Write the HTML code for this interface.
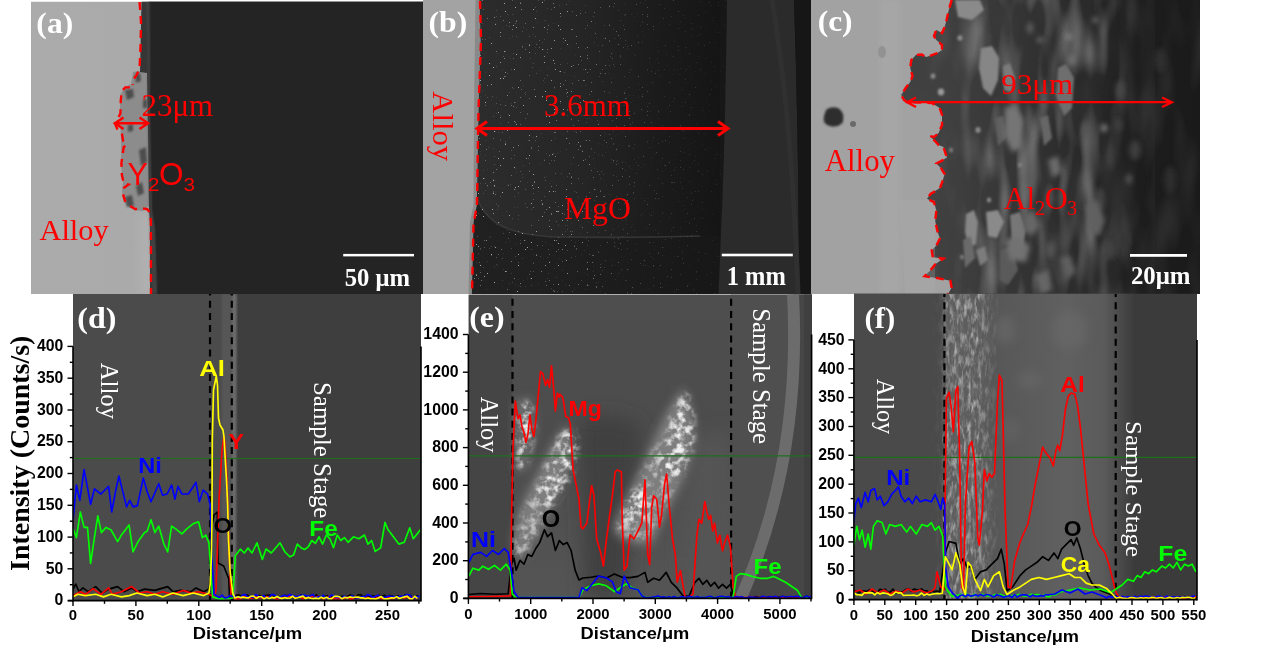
<!DOCTYPE html>
<html><head><meta charset="utf-8"><style>
html,body{margin:0;padding:0;background:#fff;width:1269px;height:661px;overflow:hidden}
svg{display:block}
</style></head><body>
<svg width="1269" height="661" viewBox="0 0 1269 661">
<rect width="1269" height="661" fill="#fff"/>
<defs>
<filter id="bl1" x="-20%" y="-20%" width="140%" height="140%"><feGaussianBlur stdDeviation="1.2"/></filter>
<filter id="bl2" x="-20%" y="-20%" width="140%" height="140%"><feGaussianBlur stdDeviation="2.5"/></filter>
<filter id="bl4" x="-30%" y="-30%" width="160%" height="160%"><feGaussianBlur stdDeviation="5"/></filter>
<filter id="bl8" x="-30%" y="-30%" width="160%" height="160%"><feGaussianBlur stdDeviation="9"/></filter>
<linearGradient id="gA" x1="0" x2="1" y1="0" y2="0">
 <stop offset="0" stop-color="#ababab"/><stop offset="0.7" stop-color="#a8a8a8"/><stop offset="1" stop-color="#9c9c9c"/></linearGradient>
<linearGradient id="gMgO" x1="0" x2="1" y1="0" y2="0">
 <stop offset="0" stop-color="#222"/><stop offset="0.35" stop-color="#1f1f1f"/><stop offset="0.7" stop-color="#181818"/><stop offset="1" stop-color="#141414"/></linearGradient>
<linearGradient id="gMgO2" x1="478" x2="720" y1="0" y2="0" gradientUnits="userSpaceOnUse">
 <stop offset="0" stop-color="#2c2c2c"/><stop offset="0.4" stop-color="#262626"/><stop offset="0.75" stop-color="#1b1b1b"/><stop offset="1" stop-color="#151515"/></linearGradient>
<linearGradient id="gCox" x1="0" x2="1" y1="0" y2="0">
 <stop offset="0" stop-color="#444"/><stop offset="0.35" stop-color="#404040"/><stop offset="0.55" stop-color="#333"/><stop offset="0.75" stop-color="#262626"/><stop offset="0.85" stop-color="#1d1d1d"/><stop offset="1" stop-color="#1a1a1a"/></linearGradient>
<linearGradient id="gFmid" x1="0" x2="1" y1="0" y2="0">
 <stop offset="0" stop-color="#5c5c5c"/><stop offset="0.3" stop-color="#575757"/><stop offset="0.75" stop-color="#606060"/><stop offset="1" stop-color="#5a5a5a"/></linearGradient>
<linearGradient id="gFedge" x1="0" x2="1" y1="0" y2="0">
 <stop offset="0" stop-color="#5a5a5a"/><stop offset="1" stop-color="#3c3c3c"/></linearGradient>
<linearGradient id="gEmid" x1="0" x2="0" y1="0" y2="1">
 <stop offset="0" stop-color="#4e4e4e"/><stop offset="0.5" stop-color="#4c4c4c"/><stop offset="1" stop-color="#555"/></linearGradient>
<filter id="cloudE" x="0" y="0" width="1269" height="661" filterUnits="userSpaceOnUse">
 <feTurbulence type="fractalNoise" baseFrequency="0.13" numOctaves="3" seed="5" result="n"/>
 <feColorMatrix in="n" type="matrix" values="0 0 0 0 1  0 0 0 0 1  0 0 0 0 1  3.4 0 0 0 -1.45" result="w"/>
 <feGaussianBlur in="SourceGraphic" stdDeviation="3" result="m"/>
 <feComposite in="w" in2="m" operator="in"/>
</filter>
<filter id="streakC" filterUnits="userSpaceOnUse" x="900" y="0" width="300" height="294">
 <feTurbulence type="fractalNoise" baseFrequency="0.05 0.014" numOctaves="2" seed="9" result="n"/>
 <feColorMatrix in="n" type="matrix" values="0 0 0 0 0.45  0 0 0 0 0.45  0 0 0 0 0.45  2.6 0 0 0 -1.15" result="w"/>
 <feComposite in="w" in2="SourceGraphic" operator="in"/>
</filter>
<filter id="streakCd" filterUnits="userSpaceOnUse" x="900" y="0" width="300" height="294">
 <feTurbulence type="fractalNoise" baseFrequency="0.04 0.012" numOctaves="2" seed="21" result="n"/>
 <feColorMatrix in="n" type="matrix" values="0 0 0 0 0.05  0 0 0 0 0.05  0 0 0 0 0.05  2.6 0 0 0 -1.15" result="w"/>
 <feComposite in="w" in2="SourceGraphic" operator="in"/>
</filter>
<filter id="fibF" filterUnits="userSpaceOnUse" x="930" y="294" width="70" height="306">
 <feTurbulence type="fractalNoise" baseFrequency="0.28 0.09" numOctaves="3" seed="4" result="n"/>
 <feColorMatrix in="n" type="matrix" values="0 0 0 0 0.62  0 0 0 0 0.62  0 0 0 0 0.62  2.8 0 0 0 -1.25" result="w"/>
 <feComposite in="w" in2="SourceGraphic" operator="in"/>
</filter>
<filter id="fibFd" filterUnits="userSpaceOnUse" x="930" y="294" width="70" height="306">
 <feTurbulence type="fractalNoise" baseFrequency="0.25 0.08" numOctaves="3" seed="14" result="n"/>
 <feColorMatrix in="n" type="matrix" values="0 0 0 0 0.2  0 0 0 0 0.2  0 0 0 0 0.2  2.8 0 0 0 -1.25" result="w"/>
 <feComposite in="w" in2="SourceGraphic" operator="in"/>
</filter>
<linearGradient id="gFibMask" x1="930" x2="1000" y1="0" y2="0" gradientUnits="userSpaceOnUse"><stop offset="0" stop-color="#000"/><stop offset="0.16" stop-color="#222"/><stop offset="0.22" stop-color="#fff"/><stop offset="0.65" stop-color="#fff"/><stop offset="0.88" stop-color="#555"/><stop offset="1" stop-color="#000"/></linearGradient>
<filter id="speckB" filterUnits="userSpaceOnUse" x="470" y="0" width="260" height="294">
 <feTurbulence type="fractalNoise" baseFrequency="0.55" numOctaves="2" seed="17" result="n"/>
 <feColorMatrix in="n" type="matrix" values="0 0 0 0 0.4  0 0 0 0 0.4  0 0 0 0 0.42  12 0 0 0 -8.7" result="w"/>
 <feComposite in="w" in2="SourceGraphic" operator="in"/>
</filter>
<linearGradient id="gSpeckMask" x1="478" x2="720" y1="0" y2="0" gradientUnits="userSpaceOnUse"><stop offset="0" stop-color="#fff"/><stop offset="0.35" stop-color="#ddd"/><stop offset="0.6" stop-color="#666"/><stop offset="1" stop-color="#222"/></linearGradient>
<filter id="mottle" filterUnits="userSpaceOnUse" x="0" y="0" width="1269" height="661">
 <feTurbulence type="fractalNoise" baseFrequency="0.045" numOctaves="3" seed="2" result="n"/>
 <feColorMatrix in="n" type="matrix" values="0 0 0 0 0.5  0 0 0 0 0.5  0 0 0 0 0.5  2.4 0 0 0 -1.05" result="w"/>
 <feComposite in="w" in2="SourceGraphic" operator="in"/>
</filter>
<linearGradient id="gMaskC" x1="900" x2="1200" y1="0" y2="0" gradientUnits="userSpaceOnUse"><stop offset="0" stop-color="#000"/><stop offset="0.17" stop-color="#333"/><stop offset="0.33" stop-color="#eee"/><stop offset="0.68" stop-color="#bbb"/><stop offset="0.8" stop-color="#222"/><stop offset="1" stop-color="#000"/></linearGradient>
<clipPath id="cpa"><rect x="31" y="1.5" width="392" height="292.5"/></clipPath>
<clipPath id="cpb"><rect x="423" y="0" width="388" height="294"/></clipPath>
<clipPath id="cpc"><rect x="811" y="0" width="389" height="294"/></clipPath>
<clipPath id="cpd"><rect x="73" y="294" width="348" height="306.5"/></clipPath>
<clipPath id="cpe"><rect x="468.5" y="294.4" width="343.5" height="304.5"/></clipPath>
<clipPath id="cpf"><rect x="854" y="293.8" width="343" height="305.8"/></clipPath>
</defs>
<g clip-path="url(#cpa)">
<rect x="31" y="1.5" width="392" height="292.5" fill="url(#gA)"/>
<path d="M138,215 L150,212 L154,294 L140,294 Z" fill="#b8b8b8" opacity="0.5" filter="url(#bl4)"/>
<path d="M133,72 L146,70 L149,90 L148,130 L149,170 L150,205 L143,211 L134,210 L126,205 L122,192 L123,182 L121,165 L121,140 L120,120 L120,95 L125,87 L131,84 Z" fill="#8c8c8c"/>
<g fill="#4e4e4e" filter="url(#bl1)"><path d="M125,90 L133,89 L134,97 L127,100 Z"/><path d="M135,74 L140,73 L141,81 L136,83 Z"/><path d="M139,150 L146,147 L147,162 L141,166 Z"/><path d="M125,197 L132,195 L134,206 L127,207 Z"/><path d="M136,186 L142,182 L144,193 L138,196Z"/><path d="M128,125 L133,124 L133,131 L128,132Z"/><path d="M143,100 L147,99 L147,108 L143,108Z"/></g>
<polygon points="141.5,1.5 423,1.5 423,294 150,294 150,222 149,210 148,130 147,73 140,72" fill="#363636"/>
<polygon points="149,1.5 423,1.5 423,294 157,294 155,230 152,210 150,120 150,60" fill="#242424"/>
<polygon points="146,1.5 150,1.5 150,60 150,120 152,210 155,230 157,294 152,294 150,230 148,120 147.5,40" fill="#4a4a4a" opacity="0.6" filter="url(#bl1)"/>
<path d="M139.6,2 L141,22 L140.6,45 L139.6,68 L136.7,75 L133.3,79.5 L132.6,85 M129.9,87.4 L125.3,87.4 L121.9,90.8 L120.8,100 L120.4,113.5 L117.4,119.2 L115.1,123.7 L117.4,129.4 L121.9,133.9 L123.1,140.7 L126.5,145 L123.8,147 L122.6,154 L121.4,163.4 L121.9,175.2 L123.8,183.4 L128.5,184.5 L123.8,188 L122.6,192.8 L125,201 L129.6,205.6 L135.5,209.2 L141.4,208 L147.2,209.2 L150,212.7 L150.9,222 L151,294" fill="none" stroke="#ff0000" stroke-width="2.4" stroke-dasharray="8,6"/>
<path d="M115,123.2 L148,123.2 M123.5,117.5 L115,123.2 L123.5,129 M139.5,117.5 L148,123.2 L139.5,129" fill="none" stroke="#ff0000" stroke-width="2.6"/>
<rect x="343.2" y="253.9" width="70.8" height="2.5" fill="#fff"/>
</g>
<text x="36.38" y="33.30" font-family='"Liberation Serif",serif' font-weight="bold" font-size="29.78" fill="#fff" textLength="36.82" lengthAdjust="spacingAndGlyphs" >(a)</text>
<text x="141.51" y="116.09" font-family='"Liberation Serif",serif' font-weight="normal" font-size="30.74" fill="#ff0000" textLength="71.63" lengthAdjust="spacingAndGlyphs" >23μm</text>
<text x="39.50" y="240.37" font-family='"Liberation Serif",serif' font-weight="normal" font-size="29.89" fill="#ff0000" textLength="69.19" lengthAdjust="spacingAndGlyphs" >Alloy</text>
<text x="344.71" y="286.18" font-family='"Liberation Serif",serif' font-weight="bold" font-size="25.68" fill="#fff" textLength="65.28" lengthAdjust="spacingAndGlyphs" >50 μm</text>
<text x="127.54" y="184.80" font-family='"Liberation Sans",sans-serif' font-weight="normal" font-size="31.74" fill="#ff0000" textLength="20.33" lengthAdjust="spacingAndGlyphs" >Y</text>
<text x="147.65" y="191.10" font-family='"Liberation Sans",sans-serif' font-weight="normal" font-size="17.71" fill="#ff0000" textLength="11.73" lengthAdjust="spacingAndGlyphs" >2</text>
<text x="158.98" y="185.18" font-family='"Liberation Sans",sans-serif' font-weight="normal" font-size="32.25" fill="#ff0000" textLength="24.53" lengthAdjust="spacingAndGlyphs" >O</text>
<text x="183.47" y="190.92" font-family='"Liberation Sans",sans-serif' font-weight="normal" font-size="18.45" fill="#ff0000" textLength="11.47" lengthAdjust="spacingAndGlyphs" >3</text>
<g clip-path="url(#cpb)">
<rect x="423" y="0" width="388" height="294" fill="url(#gMgO)"/>
<path d="M478,0 L720,0 L720,236 Q640,238 560,237 Q515,236 495,222 Q482,212 478,200 Z" fill="url(#gMgO2)"/>
<path d="M478,200 Q482,212 495,222 Q515,236 560,237 Q640,238 700,236" fill="none" stroke="#3c3c3c" stroke-width="1.6" opacity="0.8"/>
<mask id="mB" maskUnits="userSpaceOnUse" x="470" y="0" width="260" height="294"><rect x="470" y="0" width="260" height="294" fill="url(#gSpeckMask)"/></mask>
<g mask="url(#mB)"><rect x="470" y="0" width="260" height="294" fill="#fff" filter="url(#speckB)"/></g>
<path d="M423,0 L479.5,0 L480.5,40 L478.5,110 L477.8,150 L476.8,205 L473.5,222 L471.8,294 L423,294 Z" fill="#a3a3a3"/>
<path d="M475.5,0 L479.5,0 L480.5,40 L478.5,110 L477.8,150 L476.8,205 L473.5,222 L471.8,294 L468.5,294 L470,222 L473.5,205 L474,110 Z" fill="#6a6a6a" opacity="0.45"/>
<path d="M727,0 L794,0 Q799,150 799,294 L718.5,294 L721,232 Q725,150 727,0 Z" fill="#2b2b2b"/>
<path d="M794,0 L811,0 L811,294 L799,294 Q799,150 794,0 Z" fill="#161616"/>
<path d="M772,0 Q792,120 798,294" fill="none" stroke="#303030" stroke-width="5"/>
<path d="M480,1 L481,40 L478.5,110 L477.8,150 L477,205 L473.5,224 L472,294" fill="none" stroke="#ff0000" stroke-width="2.4" stroke-dasharray="8,6"/>
<path d="M477,128.5 L728,128.5 M487,121.5 L477,128.5 L487,135.5 M718,121.5 L728,128.5 L718,135.5" fill="none" stroke="#ff0000" stroke-width="3"/>
<rect x="721.8" y="253.7" width="71" height="2.6" fill="#fff"/>
</g>
<text x="428.47" y="32.17" font-family='"Liberation Serif",serif' font-weight="bold" font-size="29.45" fill="#fff" textLength="38.77" lengthAdjust="spacingAndGlyphs" >(b)</text>
<text transform="translate(432.53,91.29) rotate(90)" font-family='"Liberation Serif",serif' font-weight="normal" font-size="29.89" fill="#ff0000" textLength="69.79" lengthAdjust="spacingAndGlyphs" >Alloy</text>
<text x="544.11" y="116.32" font-family='"Liberation Serif",serif' font-weight="normal" font-size="32.15" fill="#ff0000" textLength="86.82" lengthAdjust="spacingAndGlyphs" >3.6mm</text>
<text x="563.95" y="218.79" font-family='"Liberation Serif",serif' font-weight="normal" font-size="31.20" fill="#ff0000" textLength="66.86" lengthAdjust="spacingAndGlyphs" >MgO</text>
<text x="726.74" y="285.40" font-family='"Liberation Serif",serif' font-weight="bold" font-size="26.97" fill="#fff" textLength="59.05" lengthAdjust="spacingAndGlyphs" >1 mm</text>
<g clip-path="url(#cpc)">
<rect x="811" y="0" width="389" height="294" fill="url(#gCox)"/>
<mask id="mC" maskUnits="userSpaceOnUse" x="900" y="0" width="300" height="294"><rect x="900" y="0" width="300" height="294" fill="url(#gMaskC)"/></mask>
<g mask="url(#mC)"><rect x="900" y="0" width="255" height="294" fill="#fff" filter="url(#streakC)" opacity="0.7"/></g>
<rect x="900" y="0" width="300" height="294" fill="#fff" filter="url(#streakCd)" opacity="0.5"/>
<g filter="url(#bl1)">
<path d="M955,0 L980,0 L984,10 L972,20 L958,17 Z" fill="#8a8a8a"/>
<path d="M981,48 L992,46 L999,58 L998,80 L991,96 L983,88 L979,68 Z" fill="#868686"/>
<path d="M1003,66 L1010,63 L1015,78 L1011,92 L1004,90 Z" fill="#7a7a7a"/>
<path d="M966,214 L974,210 L978,222 L976,244 L969,248 L965,232 Z" fill="#868686"/>
<path d="M986,212 L998,210 L1004,222 L997,238 L988,236 Z" fill="#8a8a8a"/>
<path d="M976,250 L985,246 L988,260 L980,266 Z" fill="#7c7c7c"/>
<path d="M1010,215 L1020,212 L1026,230 L1022,250 L1012,245 Z" fill="#777"/>
<path d="M1058,68 L1066,64 L1074,78 L1072,108 L1064,116 L1056,96 Z" fill="#6e6e6e"/>
<path d="M1040,118 L1048,115 L1052,138 L1044,146 Z" fill="#666"/>
<path d="M995,118 L1003,116 L1006,138 L998,146 Z" fill="#5e5e5e"/>
<path d="M1000,250 L1012,246 L1018,270 L1008,285 L1000,280 Z" fill="#5a5a5a"/>
<path d="M963,240 L971,236 L975,258 L965,268 Z" fill="#6a6a6a"/>
</g>
<g filter="url(#bl2)" opacity="0.8">
<ellipse cx="1069" cy="37" rx="3" ry="4" fill="#888"/>
<ellipse cx="1072" cy="60" rx="4" ry="5" fill="#777"/>
<ellipse cx="1030" cy="28" rx="3" ry="6" fill="#6a6a6a"/>
<ellipse cx="1120" cy="90" rx="5" ry="9" fill="#4a4a4a"/>
<ellipse cx="1135" cy="150" rx="6" ry="10" fill="#444"/>
<ellipse cx="1100" cy="200" rx="5" ry="12" fill="#4a4a4a"/>
<ellipse cx="1085" cy="130" rx="4" ry="8" fill="#555"/>
<ellipse cx="1110" cy="250" rx="6" ry="10" fill="#444"/>
<ellipse cx="1160" cy="60" rx="6" ry="12" fill="#333"/>
<ellipse cx="1170" cy="180" rx="6" ry="14" fill="#303030"/>
<ellipse cx="1050" cy="250" rx="4" ry="8" fill="#5a5a5a"/>
<ellipse cx="1040" cy="40" rx="3" ry="3" fill="#777"/>
<ellipse cx="1095" cy="20" rx="3" ry="3" fill="#777"/>
</g>
<g filter="url(#bl1)">
<ellipse cx="960" cy="38" rx="2.6" ry="2.8" fill="#8a8a8a"/>
<ellipse cx="933" cy="76" rx="2.4" ry="2.6" fill="#8a8a8a"/>
<ellipse cx="941" cy="92" rx="3.2" ry="3.4" fill="#9a9a9a"/>
<ellipse cx="978" cy="130" rx="2.6" ry="3" fill="#8a8a8a"/>
<ellipse cx="951" cy="150" rx="2" ry="2.5" fill="#7a7a7a"/>
<ellipse cx="989" cy="200" rx="2.2" ry="2.6" fill="#888"/>
<ellipse cx="962" cy="257" rx="2.2" ry="2.5" fill="#777"/>
<ellipse cx="1020" cy="165" rx="2" ry="2.4" fill="#808080"/>
</g>
<g filter="url(#bl2)">
<path d="M1005,108 L1016,104 L1024,120 L1022,148 L1012,152 L1004,135 Z" fill="#747474"/>
<path d="M1085,205 L1097,200 L1105,220 L1100,236 L1088,232 Z" fill="#606060"/>
<path d="M1005,240 L1018,236 L1030,246 L1026,262 L1010,260 Z" fill="#727272"/>
<path d="M1024,215 L1034,210 L1040,226 L1032,236 L1024,230 Z" fill="#666"/>
<path d="M1048,160 L1058,156 L1062,172 L1052,178 Z" fill="#6a6a6a"/>
<path d="M1060,258 L1070,255 L1076,272 L1066,280 Z" fill="#5e5e5e"/>
<path d="M1035,275 L1048,270 L1052,290 L1040,294 Z" fill="#666"/>
<ellipse cx="1104" cy="128" rx="3.5" ry="4" fill="#777"/>
<ellipse cx="1129" cy="179" rx="3" ry="5" fill="#555"/>
<ellipse cx="1118" cy="125" rx="4" ry="7" fill="#3e3e3e"/>
<ellipse cx="1125" cy="240" rx="5" ry="9" fill="#363636"/>
</g>
<polygon points="811,0 951.7,0.0 948.8,10.0 946.5,20.0 944.3,28.0 942.0,33.0 936.3,30.0 934.0,36.0 936.3,40.0 942.0,45.0 942.0,50.0 937.4,53.0 929.5,56.0 926.1,57.0 921.6,54.5 915.9,55.0 911.3,60.0 910.2,68.0 912.5,76.0 910.2,82.0 905.7,88.0 901.1,95.0 904.0,100.0 906.8,102.0 931.8,103.0 939.7,108.0 942.0,115.0 942.0,125.0 938.6,133.0 934.0,137.0 929.5,136.0 934.0,140.0 938.6,145.0 943.4,147.0 946.9,157.6 941.0,161.1 936.4,163.5 941.0,168.2 944.6,174.0 942.2,182.2 939.9,188.1 930.5,194.0 927.0,198.7 934.0,202.2 936.4,210.4 935.2,221.0 937.5,231.5 939.9,238.5 936.4,245.6 931.7,250.3 932.8,257.3 943.4,258.5 935.2,264.3 930.5,270.2 924.6,276.1 938.7,278.4 950.4,280.8 951.6,287.8 948.1,294.0 811,294" fill="#a2a2a2"/>
<rect x="880" y="0" width="20" height="294" fill="#aaa" opacity="0.5" filter="url(#bl2)"/>
<path d="M900,200 L935,200 L935,294 L905,294 Z" fill="#b0b0b0" opacity="0.25"/>
<path d="M826,110 Q830,106 838,108 Q845,112 843,122 Q838,128 830,126 Q822,124 824,116 Z" fill="#2e2e2e" filter="url(#bl1)"/>
<ellipse cx="853" cy="124" rx="3" ry="3" fill="#6a6a6a"/>
<ellipse cx="882" cy="52" rx="4" ry="6" fill="#8a8a8a" opacity="0.7"/>
<polyline points="951.7,0.0 948.8,10.0 946.5,20.0 944.3,28.0 942.0,33.0 936.3,30.0 934.0,36.0 936.3,40.0 942.0,45.0 942.0,50.0 937.4,53.0 929.5,56.0 926.1,57.0 921.6,54.5 915.9,55.0 911.3,60.0 910.2,68.0 912.5,76.0 910.2,82.0 905.7,88.0 901.1,95.0 904.0,100.0 906.8,102.0 931.8,103.0 939.7,108.0 942.0,115.0 942.0,125.0 938.6,133.0 934.0,137.0 929.5,136.0 934.0,140.0 938.6,145.0 943.4,147.0 946.9,157.6 941.0,161.1 936.4,163.5 941.0,168.2 944.6,174.0 942.2,182.2 939.9,188.1 930.5,194.0 927.0,198.7 934.0,202.2 936.4,210.4 935.2,221.0 937.5,231.5 939.9,238.5 936.4,245.6 931.7,250.3 932.8,257.3 943.4,258.5 935.2,264.3 930.5,270.2 924.6,276.1 938.7,278.4 950.4,280.8 951.6,287.8 948.1,294.0" fill="none" stroke="#ff0000" stroke-width="2.4" stroke-dasharray="8,6"/>
<path d="M907,102.2 L1172,102.2 M916,97.5 L907,102.2 L916,107 M1162,97.5 L1172,102.2 L1162,107" fill="none" stroke="#ff0000" stroke-width="2.2"/>
<rect x="1130" y="254" width="57" height="2.8" fill="#fff"/>
</g>
<text x="817.68" y="31.40" font-family='"Liberation Serif",serif' font-weight="bold" font-size="29.78" fill="#fff" textLength="34.93" lengthAdjust="spacingAndGlyphs" >(c)</text>
<text x="824.79" y="171.21" font-family='"Liberation Serif",serif' font-weight="normal" font-size="30.66" fill="#ff0000" textLength="70.19" lengthAdjust="spacingAndGlyphs" >Alloy</text>
<text x="1001.17" y="93.66" font-family='"Liberation Serif",serif' font-weight="normal" font-size="29.94" fill="#ff0000" textLength="71.97" lengthAdjust="spacingAndGlyphs" >93μm</text>
<text x="1003.79" y="208.90" font-family='"Liberation Serif",serif' font-weight="normal" font-size="31.80" fill="#ff0000" textLength="31.34" lengthAdjust="spacingAndGlyphs" >Al</text>
<text x="1034.74" y="215.10" font-family='"Liberation Serif",serif' font-weight="normal" font-size="21.21" fill="#ff0000" >2</text>
<text x="1044.72" y="208.98" font-family='"Liberation Serif",serif' font-weight="normal" font-size="32.09" fill="#ff0000" textLength="23.02" lengthAdjust="spacingAndGlyphs" >O</text>
<text x="1067.22" y="214.89" font-family='"Liberation Serif",serif' font-weight="normal" font-size="20.90" fill="#ff0000" textLength="9.76" lengthAdjust="spacingAndGlyphs" >3</text>
<text x="1130.91" y="284.25" font-family='"Liberation Serif",serif' font-weight="bold" font-size="24.43" fill="#fff" textLength="59.59" lengthAdjust="spacingAndGlyphs" >20μm</text>
<g clip-path="url(#cpd)">
<rect x="73" y="294" width="348" height="307" fill="#3e3e3e"/>
<rect x="73" y="294" width="155" height="307" fill="#4b4b4b"/>
<rect x="222" y="294" width="14" height="307" fill="#565656" filter="url(#bl1)"/>
<path d="M232.5,294 L236.5,294 L235.5,601 L232,601 Z" fill="#6c6c6c" filter="url(#bl1)"/>
<line x1="73" y1="458.5" x2="421" y2="458.5" stroke="#1f6f1f" stroke-width="1.2"/>
<line x1="210" y1="294" x2="210" y2="600" stroke="#000" stroke-width="2.2" stroke-dasharray="7,5.2" stroke-dashoffset="5.5"/>
<line x1="231.8" y1="294" x2="231.8" y2="600" stroke="#000" stroke-width="2.2" stroke-dasharray="7,5.2" stroke-dashoffset="5.5"/>
<polyline points="73.1,589.1 75.7,584.0 79.0,591.7 82.9,587.9 88.0,591.7 95.7,586.6 102.1,593.0 108.6,589.1 117.6,586.6 124.0,591.7 131.7,587.9 136.9,591.7 144.6,589.1 154.9,590.4 167.7,586.6 172.9,591.7 180.6,590.4 190.9,591.7 196.0,587.9 203.7,591.7 208.9,589.1 210.2,584.0 212.0,525.0 214.0,515.0 217.3,512.0 218.0,563.0 223.7,566.0 228.8,578.8 229.5,597.0 233.0,599.0 236.0,595.4 238.6,594.9 241.2,596.1 243.8,595.1 246.4,594.8 249.0,596.1 251.6,598.2 254.2,597.7 256.8,597.6 259.4,595.4 262.0,596.6 264.6,595.6 267.2,595.2 269.8,594.9 272.4,595.4 275.0,598.2 277.6,597.8 280.2,597.7 282.8,597.7 285.4,595.3 288.0,595.7 290.6,597.0 293.2,597.4 295.8,597.9 298.4,598.0 301.0,594.8 303.6,596.9 306.2,597.2 308.8,596.5 311.4,595.2 314.0,596.4 316.6,594.9 319.2,598.2 321.8,598.0 324.4,596.7 327.0,595.7 329.6,598.1 332.2,596.8 334.8,598.0 337.4,597.9 340.0,596.5 342.6,596.2 345.2,596.9 347.8,596.2 350.4,595.1 353.0,595.7 355.6,597.8 358.2,594.7 360.8,594.7 363.4,597.0 366.0,595.6 368.6,596.6 371.2,596.4 373.8,595.9 376.4,598.5 379.0,595.3 381.6,596.2 384.2,595.3 386.8,597.0 389.4,595.6 392.0,595.9 394.6,597.5 397.2,595.8 399.8,596.7 402.4,598.1 405.0,594.9 407.6,594.7 410.2,595.4 412.8,597.6 415.4,597.0 418.0,595.4" fill="none" stroke="#000000" stroke-width="1.65" stroke-linejoin="round"/>
<polyline points="73.1,595.6 80.3,591.7 85.4,594.3 93.1,588.6 100.9,594.3 108.6,587.9 112.4,594.3 121.4,591.7 131.7,586.6 139.4,593.0 147.1,591.7 154.9,594.3 162.6,591.7 172.9,594.3 183.1,590.4 190.9,593.0 198.6,591.7 208.9,594.3 214.0,597.0 216.0,590.0 219.0,500.0 222.0,450.0 224.0,436.0 225.0,445.0 227.0,480.0 229.0,550.0 231.0,596.0 235.0,598.5 238.0,598.9 240.6,598.8 243.2,596.2 245.8,596.3 248.4,598.5 251.0,598.2 253.6,598.0 256.2,596.9 258.8,597.8 261.4,597.8 264.0,597.7 266.6,596.5 269.2,597.3 271.8,597.2 274.4,598.2 277.0,599.0 279.6,598.8 282.2,597.6 284.8,597.3 287.4,596.8 290.0,596.1 292.6,596.1 295.2,597.4 297.8,597.0 300.4,597.1 303.0,598.7 305.6,597.6 308.2,597.7 310.8,596.7 313.4,596.1 316.0,597.0 318.6,596.4 321.2,597.5 323.8,599.0 326.4,598.0 329.0,596.5 331.6,598.7 334.2,598.4 336.8,598.2 339.4,598.7 342.0,598.3 344.6,598.4 347.2,597.1 349.8,598.9 352.4,598.9 355.0,596.5 357.6,598.3 360.2,598.1 362.8,597.4 365.4,597.6 368.0,597.5 370.6,598.8 373.2,597.5 375.8,598.5 378.4,597.1 381.0,598.6 383.6,598.7 386.2,597.4 388.8,597.7 391.4,598.8 394.0,598.2 396.6,597.5 399.2,596.7 401.8,597.0 404.4,598.1 407.0,596.5 409.6,598.7 412.2,596.8 414.8,598.7 417.4,596.9" fill="none" stroke="#ff0000" stroke-width="1.65" stroke-linejoin="round"/>
<polyline points="73.1,528.7 76.4,537.7 80.3,512.0 84.1,527.4 87.5,527.4 90.6,563.4 94.4,537.7 97.8,515.9 101.4,532.6 106.0,527.4 111.1,530.0 117.6,541.6 121.4,535.1 129.1,524.9 133.0,551.9 138.1,541.6 144.6,532.6 147.1,531.3 151.0,519.7 154.9,532.6 158.7,526.1 163.9,544.1 167.7,551.9 171.6,526.1 175.4,528.7 181.9,533.9 187.0,528.7 193.4,523.6 198.6,521.8 202.4,537.7 205.8,535.1 208.9,542.9 210.7,568.6 212.7,596.9 220.0,599.0 228.0,598.5 232.7,598.0 235.3,555.7 240.4,549.0 244.3,553.0 248.0,548.0 252.0,553.0 257.0,542.8 262.3,559.5 266.0,549.0 271.3,553.0 280.0,542.8 285.0,552.0 290.0,556.8 293.6,555.0 297.3,544.1 300.9,547.7 304.5,549.5 308.1,547.0 311.8,540.5 315.4,543.4 319.0,536.8 322.6,544.1 326.3,535.0 329.9,538.7 333.5,547.7 337.2,535.0 340.8,540.5 344.4,537.6 348.0,542.3 353.5,536.8 358.9,538.7 364.4,535.0 368.0,544.1 371.6,540.5 375.2,551.4 380.7,547.7 385.0,522.3 387.9,529.6 393.4,536.8 398.8,544.1 404.3,542.3 409.7,527.8 413.3,538.7 420.6,529.6" fill="none" stroke="#00ff00" stroke-width="1.65" stroke-linejoin="round"/>
<polyline points="73.1,519.7 76.4,485.0 79.8,500.4 84.1,469.6 90.6,504.3 94.4,488.9 100.9,494.0 108.6,486.3 111.7,512.0 115.8,490.1 118.9,476.0 122.7,491.4 126.6,506.9 129.7,500.4 133.0,506.9 137.4,505.6 143.3,478.0 147.1,491.4 151.0,501.7 158.7,483.7 162.6,495.3 167.2,494.0 171.6,485.0 174.9,499.1 178.0,486.3 181.9,494.0 188.3,494.0 196.0,482.4 199.3,501.7 203.2,490.1 207.6,494.0 210.1,504.3 211.9,555.7 214.0,594.3 219.1,597.5 222.0,595.0 224.6,597.9 227.2,597.6 229.8,595.5 232.4,596.5 235.0,596.3 237.6,597.1 240.2,597.7 242.8,594.9 245.4,594.6 248.0,597.8 250.6,596.2 253.2,597.5 255.8,594.5 258.4,596.3 261.0,597.4 263.6,595.4 266.2,598.3 268.8,598.1 271.4,594.6 274.0,594.6 276.6,596.7 279.2,598.3 281.8,596.0 284.4,595.4 287.0,596.2 289.6,594.6 292.2,595.4 294.8,596.3 297.4,596.5 300.0,595.4 302.6,595.4 305.2,595.4 307.8,596.3 310.4,595.7 313.0,594.6 315.6,597.9 318.2,596.7 320.8,597.1 323.4,595.2 326.0,598.5 328.6,597.9 331.2,595.0 333.8,595.8 336.4,597.4 339.0,597.3 341.6,598.2 344.2,596.2 346.8,597.8 349.4,597.2 352.0,595.7 354.6,596.9 357.2,598.0 359.8,597.9 362.4,596.5 365.0,596.9 367.6,594.6 370.2,595.5 372.8,597.7 375.4,596.2 378.0,595.2 380.6,596.7 383.2,597.3 385.8,597.2 388.4,596.0 391.0,596.3 393.6,596.5 396.2,597.6 398.8,596.6 401.4,596.1 404.0,596.5 406.6,594.6 409.2,594.7 411.8,597.3 414.4,598.4 417.0,596.9 419.6,596.1" fill="none" stroke="#0000ff" stroke-width="1.65" stroke-linejoin="round"/>
<polyline points="73.1,596.9 77.7,594.3 85.4,595.6 95.7,594.3 103.4,596.9 111.1,594.3 121.4,596.9 129.1,595.6 136.9,593.0 147.1,595.6 154.9,594.3 162.6,596.9 172.9,593.0 183.1,595.6 193.4,593.0 203.7,595.6 208.9,593.0 210.2,584.0 211.4,558.0 212.0,520.0 212.3,440.0 213.5,390.0 216.3,376.0 217.5,385.0 218.5,418.0 220.0,425.0 223.0,430.0 224.0,437.0 225.0,455.0 226.5,480.0 227.6,504.0 228.5,540.0 230.0,570.0 232.7,593.0 235.0,598.0 238.0,596.7 240.6,597.6 243.2,597.1 245.8,597.8 248.4,597.9 251.0,596.2 253.6,596.0 256.2,598.5 258.8,596.8 261.4,596.7 264.0,599.0 266.6,597.4 269.2,598.5 271.8,597.4 274.4,597.9 277.0,596.5 279.6,597.9 282.2,598.6 284.8,597.6 287.4,598.2 290.0,598.0 292.6,596.2 295.2,598.3 297.8,597.8 300.4,596.9 303.0,596.1 305.6,598.6 308.2,597.4 310.8,598.2 313.4,598.6 316.0,598.1 318.6,598.8 321.2,597.2 323.8,598.4 326.4,597.3 329.0,598.8 331.6,598.6 334.2,596.3 336.8,596.4 339.4,596.7 342.0,598.9 344.6,597.3 347.2,597.9 349.8,596.9 352.4,597.5 355.0,597.2 357.6,597.1 360.2,597.8 362.8,597.8 365.4,598.7 368.0,598.0 370.6,598.8 373.2,598.6 375.8,599.0 378.4,598.0 381.0,596.5 383.6,598.6 386.2,598.9 388.8,598.7 391.4,597.7 394.0,598.1 396.6,596.6 399.2,598.5 401.8,597.7 404.4,596.9 407.0,596.2 409.6,598.6 412.2,599.0 414.8,596.3 417.4,598.4" fill="none" stroke="#ffff00" stroke-width="1.65" stroke-linejoin="round"/>
</g>
<text x="77.36" y="327.70" font-family='"Liberation Serif",serif' font-weight="bold" font-size="30.22" fill="#fff" textLength="39.09" lengthAdjust="spacingAndGlyphs" >(d)</text>
<text transform="translate(101.37,362.65) rotate(90)" font-family='"Liberation Serif",serif' font-weight="normal" font-size="24.51" fill="#fff" textLength="56.52" lengthAdjust="spacingAndGlyphs" >Alloy</text>
<text transform="translate(313.76,381.99) rotate(90)" font-family='"Liberation Serif",serif' font-weight="normal" font-size="24.95" fill="#fff" >Sample Stage</text>
<text x="199.15" y="376.20" font-family='"Liberation Sans",sans-serif' font-weight="bold" font-size="22.62" fill="#ffff00" textLength="25.86" lengthAdjust="spacingAndGlyphs" >Al</text>
<text x="228.54" y="448.60" font-family='"Liberation Sans",sans-serif' font-weight="bold" font-size="22.75" fill="#ff0000" textLength="15.46" lengthAdjust="spacingAndGlyphs" >Y</text>
<text x="138.27" y="472.90" font-family='"Liberation Sans",sans-serif' font-weight="bold" font-size="22.21" fill="#0000ff" textLength="23.58" lengthAdjust="spacingAndGlyphs" >Ni</text>
<text x="309.32" y="535.69" font-family='"Liberation Sans",sans-serif' font-weight="bold" font-size="21.29" fill="#00ff00" textLength="28.38" lengthAdjust="spacingAndGlyphs" >Fe</text>
<text x="213.45" y="532.87" font-family='"Liberation Sans",sans-serif' font-weight="bold" font-size="22.54" fill="#000000" textLength="18.47" lengthAdjust="spacingAndGlyphs" >O</text>
<line x1="73" y1="346.4" x2="73" y2="601.4" stroke="#000" stroke-width="1.6"/>
<line x1="421" y1="346.4" x2="421" y2="601.4" stroke="#000" stroke-width="1.6"/>
<line x1="68" y1="600.6" x2="421" y2="600.6" stroke="#000" stroke-width="1.6"/>
<line x1="67.5" y1="600.6" x2="73" y2="600.6" stroke="#000" stroke-width="1.4"/>
<text x="63.3" y="605.3" text-anchor="end" font-family='"Liberation Sans",sans-serif' font-weight="bold" font-size="15.8" fill="#000">0</text>
<line x1="69.8" y1="584.7" x2="73" y2="584.7" stroke="#000" stroke-width="1.4"/>
<line x1="67.5" y1="568.8" x2="73" y2="568.8" stroke="#000" stroke-width="1.4"/>
<text x="63.3" y="573.5" text-anchor="end" font-family='"Liberation Sans",sans-serif' font-weight="bold" font-size="15.8" fill="#000">50</text>
<line x1="69.8" y1="552.9" x2="73" y2="552.9" stroke="#000" stroke-width="1.4"/>
<line x1="67.5" y1="537.1" x2="73" y2="537.1" stroke="#000" stroke-width="1.4"/>
<text x="63.3" y="541.8" text-anchor="end" font-family='"Liberation Sans",sans-serif' font-weight="bold" font-size="15.8" fill="#000">100</text>
<line x1="69.8" y1="521.2" x2="73" y2="521.2" stroke="#000" stroke-width="1.4"/>
<line x1="67.5" y1="505.3" x2="73" y2="505.3" stroke="#000" stroke-width="1.4"/>
<text x="63.3" y="510.0" text-anchor="end" font-family='"Liberation Sans",sans-serif' font-weight="bold" font-size="15.8" fill="#000">150</text>
<line x1="69.8" y1="489.4" x2="73" y2="489.4" stroke="#000" stroke-width="1.4"/>
<line x1="67.5" y1="473.5" x2="73" y2="473.5" stroke="#000" stroke-width="1.4"/>
<text x="63.3" y="478.2" text-anchor="end" font-family='"Liberation Sans",sans-serif' font-weight="bold" font-size="15.8" fill="#000">200</text>
<line x1="69.8" y1="457.6" x2="73" y2="457.6" stroke="#000" stroke-width="1.4"/>
<line x1="67.5" y1="441.7" x2="73" y2="441.7" stroke="#000" stroke-width="1.4"/>
<text x="63.3" y="446.4" text-anchor="end" font-family='"Liberation Sans",sans-serif' font-weight="bold" font-size="15.8" fill="#000">250</text>
<line x1="69.8" y1="425.8" x2="73" y2="425.8" stroke="#000" stroke-width="1.4"/>
<line x1="67.5" y1="410.0" x2="73" y2="410.0" stroke="#000" stroke-width="1.4"/>
<text x="63.3" y="414.7" text-anchor="end" font-family='"Liberation Sans",sans-serif' font-weight="bold" font-size="15.8" fill="#000">300</text>
<line x1="69.8" y1="394.1" x2="73" y2="394.1" stroke="#000" stroke-width="1.4"/>
<line x1="67.5" y1="378.2" x2="73" y2="378.2" stroke="#000" stroke-width="1.4"/>
<text x="63.3" y="382.9" text-anchor="end" font-family='"Liberation Sans",sans-serif' font-weight="bold" font-size="15.8" fill="#000">350</text>
<line x1="69.8" y1="362.3" x2="73" y2="362.3" stroke="#000" stroke-width="1.4"/>
<line x1="67.5" y1="346.4" x2="73" y2="346.4" stroke="#000" stroke-width="1.4"/>
<text x="63.3" y="351.1" text-anchor="end" font-family='"Liberation Sans",sans-serif' font-weight="bold" font-size="15.8" fill="#000">400</text>
<line x1="73.0" y1="600.6" x2="73.0" y2="606.1" stroke="#000" stroke-width="1.4"/>
<text x="73.0" y="620.2" text-anchor="middle" font-family='"Liberation Sans",sans-serif' font-weight="bold" font-size="14.9" fill="#000">0</text>
<line x1="104.5" y1="600.6" x2="104.5" y2="603.8000000000001" stroke="#000" stroke-width="1.4"/>
<line x1="135.9" y1="600.6" x2="135.9" y2="606.1" stroke="#000" stroke-width="1.4"/>
<text x="135.9" y="620.2" text-anchor="middle" font-family='"Liberation Sans",sans-serif' font-weight="bold" font-size="14.9" fill="#000">50</text>
<line x1="167.3" y1="600.6" x2="167.3" y2="603.8000000000001" stroke="#000" stroke-width="1.4"/>
<line x1="198.8" y1="600.6" x2="198.8" y2="606.1" stroke="#000" stroke-width="1.4"/>
<text x="198.8" y="620.2" text-anchor="middle" font-family='"Liberation Sans",sans-serif' font-weight="bold" font-size="14.9" fill="#000">100</text>
<line x1="230.2" y1="600.6" x2="230.2" y2="603.8000000000001" stroke="#000" stroke-width="1.4"/>
<line x1="261.7" y1="600.6" x2="261.7" y2="606.1" stroke="#000" stroke-width="1.4"/>
<text x="261.7" y="620.2" text-anchor="middle" font-family='"Liberation Sans",sans-serif' font-weight="bold" font-size="14.9" fill="#000">150</text>
<line x1="293.1" y1="600.6" x2="293.1" y2="603.8000000000001" stroke="#000" stroke-width="1.4"/>
<line x1="324.6" y1="600.6" x2="324.6" y2="606.1" stroke="#000" stroke-width="1.4"/>
<text x="324.6" y="620.2" text-anchor="middle" font-family='"Liberation Sans",sans-serif' font-weight="bold" font-size="14.9" fill="#000">200</text>
<line x1="356.1" y1="600.6" x2="356.1" y2="603.8000000000001" stroke="#000" stroke-width="1.4"/>
<line x1="387.5" y1="600.6" x2="387.5" y2="606.1" stroke="#000" stroke-width="1.4"/>
<text x="387.5" y="620.2" text-anchor="middle" font-family='"Liberation Sans",sans-serif' font-weight="bold" font-size="14.9" fill="#000">250</text>
<line x1="418.9" y1="600.6" x2="418.9" y2="603.8000000000001" stroke="#000" stroke-width="1.4"/>
<text x="192.70" y="638.64" font-family='"Liberation Sans",sans-serif' font-weight="bold" font-size="15.91" fill="#000" textLength="109.55" lengthAdjust="spacingAndGlyphs" >Distance/μm</text>
<g clip-path="url(#cpe)">
<rect x="468.5" y="294.5" width="344" height="305" fill="#4a4a4a"/>
<rect x="468.5" y="294.5" width="44" height="305" fill="#454545"/>
<rect x="512.5" y="294.5" width="219" height="305" fill="url(#gEmid)"/>
<path d="M580,420 Q610,410 640,425 L625,598 L585,598 Z" fill="#404040" filter="url(#bl8)"/>
<path d="M690,440 L731,430 L731,598 L680,598 Z" fill="#545454" filter="url(#bl8)"/>
<path d="M566,425 Q578,440 566,475 Q552,505 540,530 Q528,552 520,560 L513,545 Q516,515 528,492 Q542,466 552,445 Z" fill="#7e7e7e" filter="url(#bl4)"/>
<path d="M514,400 L532,397 L536,430 L528,470 L516,472 Z" fill="#6a6a6a" filter="url(#bl4)"/>
<path d="M683,388 Q694,405 694,440 Q688,472 674,498 Q662,520 650,545 L622,540 L613,528 Q626,497 643,465 Q655,435 668,410 Z" fill="#7e7e7e" filter="url(#bl4)"/>
<g filter="url(#cloudE)" opacity="0.88">
<path d="M572,428 Q582,445 572,472 Q562,492 552,506 L532,500 Q540,478 550,458 Q558,440 562,432 Z" fill="#000"/>
<path d="M518,405 L531,402 L534,432 L527,466 L518,468 Z" fill="#000"/>
<path d="M684,390 Q695,408 694,440 Q689,462 680,478 L660,470 Q664,445 670,420 Z" fill="#000"/>
<path d="M645,488 Q650,500 643,516 L624,522 L628,495 Z" fill="#000"/>
</g>
<g filter="url(#cloudE)" opacity="0.5">
<path d="M552,500 Q545,520 535,538 Q527,552 519,560 L514,548 Q518,525 528,500 Z" fill="#000"/>
<path d="M680,470 Q672,495 662,515 Q655,530 648,542 L624,536 L615,526 Q628,500 645,470 Q652,450 660,440 Z" fill="#000"/>
</g>
<rect x="731" y="294" width="82" height="306" fill="#4f4f4f"/>
<path d="M793,294 Q802,460 740,600 L813,600 L813,294 Z" fill="#464646"/>
<path d="M793,294 Q802,460 740,600" fill="none" stroke="#6c6c6c" stroke-width="12"/>
<rect x="804" y="294" width="9" height="306" fill="#3c3c3c" opacity="0.7"/>
<line x1="468.5" y1="455.8" x2="812" y2="455.8" stroke="#1f6f1f" stroke-width="1.2"/>
<line x1="512.5" y1="294.5" x2="512.5" y2="598.4" stroke="#000" stroke-width="2.2" stroke-dasharray="7,5.2" stroke-dashoffset="7.9"/>
<line x1="731.1" y1="294.5" x2="731.1" y2="598.4" stroke="#000" stroke-width="2.2" stroke-dasharray="7,5.2" stroke-dashoffset="7.9"/>
<polyline points="468.9,594.5 480.0,593.5 495.0,594.2 508.2,593.7 511.4,564.2 514.1,558.3 516.1,570.1 520.0,560.3 524.0,564.2 527.9,554.4 531.8,556.4 535.8,548.5 539.7,542.6 544.4,529.8 547.5,536.7 551.5,532.8 555.4,550.5 559.3,540.6 563.3,544.6 567.2,542.6 571.1,550.5 575.1,570.1 579.0,580.0 582.9,578.0 590.8,577.2 598.6,576.0 606.5,578.0 614.4,574.1 622.2,577.2 630.0,577.6 637.9,576.4 645.0,572.4 647.7,582.3 653.6,578.3 659.5,580.3 666.2,572.4 671.3,582.3 677.2,588.2 683.1,596.1 689.1,596.1 695.0,582.3 698.9,578.3 702.8,584.3 706.8,580.3 710.7,586.2 714.6,582.3 718.6,588.2 722.5,584.3 726.5,588.2 730.4,584.3 733.1,594.1 736.3,597.2 740.0,597.5 742.6,597.7 745.2,597.8 747.8,598.0 750.4,597.7 753.0,598.0 755.6,596.5 758.2,597.2 760.8,598.0 763.4,597.5 766.0,597.9 768.6,596.7 771.2,597.3 773.8,596.9 776.4,597.4 779.0,597.4 781.6,596.5 784.2,596.8 786.8,596.9 789.4,598.0 792.0,597.7 794.6,596.8 797.2,597.8 799.8,596.7 802.4,597.5 805.0,596.7 807.6,596.5 810.2,597.9" fill="none" stroke="#000000" stroke-width="1.65" stroke-linejoin="round"/>
<polyline points="468.9,596.7 490.0,596.5 508.2,596.0 510.5,596.0 511.5,520.0 513.0,448.3 515.3,401.1 518.1,418.8 520.0,414.9 522.0,426.7 524.0,432.5 525.9,442.4 527.9,434.5 529.9,414.9 531.8,428.6 533.8,436.5 535.8,420.8 537.7,401.1 540.5,371.6 542.8,373.6 545.6,385.4 547.5,379.5 549.5,387.3 551.5,365.7 553.4,385.4 555.4,410.9 557.4,393.2 559.3,397.2 560.0,394.2 562.4,396.7 563.6,402.0 565.8,416.6 568.5,417.8 570.3,423.9 573.1,469.9 575.1,479.7 579.0,499.4 581.0,526.9 582.9,528.9 586.9,523.0 588.8,507.2 591.6,485.6 593.9,495.4 596.7,538.7 600.6,552.4 603.4,566.2 606.5,538.7 609.7,515.1 612.4,495.4 615.2,471.9 617.5,469.9 621.4,471.9 622.2,519.0 624.2,570.1 627.0,566.2 630.1,534.7 633.9,539.0 637.9,531.1 641.8,523.2 645.0,479.9 647.7,554.7 649.7,564.6 651.7,507.5 653.6,495.7 656.8,499.6 659.5,527.2 661.5,515.4 664.6,483.9 666.6,474.0 669.4,507.5 672.5,539.0 675.3,554.7 677.2,582.3 680.4,570.5 683.1,586.2 685.1,597.2 689.1,597.2 693.0,594.1 696.9,535.0 698.9,519.3 701.7,523.2 704.8,501.6 706.8,511.4 708.7,519.3 710.7,515.4 712.7,531.1 714.6,523.2 717.4,542.9 719.8,535.0 722.5,550.8 724.5,542.9 727.6,535.0 730.4,546.9 733.1,586.2 735.5,597.2 760.0,597.5 812.0,597.5" fill="none" stroke="#ff0000" stroke-width="1.65" stroke-linejoin="round"/>
<polyline points="468.9,576.0 472.9,568.2 478.8,570.1 482.7,566.2 488.6,569.3 494.5,565.4 500.4,570.1 506.3,564.2 510.2,570.1 512.2,593.7 515.3,597.5 579.0,597.5 582.9,589.8 590.8,585.8 598.6,583.9 606.5,585.8 614.4,591.7 620.3,587.8 626.2,583.9 632.1,587.8 638.0,589.8 641.9,595.7 645.0,597.5 733.1,597.5 736.3,576.4 740.2,573.6 746.1,574.4 752.0,576.4 759.9,578.3 767.8,578.3 773.7,576.4 777.6,578.3 785.5,582.3 791.4,586.2 797.3,590.2 801.3,597.2 812.0,597.5" fill="none" stroke="#00ff00" stroke-width="1.65" stroke-linejoin="round"/>
<polyline points="468.9,562.3 472.9,554.4 480.7,552.4 486.6,556.4 492.5,550.5 498.4,554.4 504.3,548.5 508.2,552.4 511.4,572.0 514.1,591.7 518.1,597.5 579.0,597.5 582.1,587.8 586.9,590.6 590.8,585.8 598.6,576.0 606.5,578.0 612.4,581.9 616.3,591.7 620.3,593.7 624.2,576.0 630.1,587.8 638.0,589.8 641.9,595.7 645.0,597.5 648.0,597.5 650.6,597.6 653.2,597.0 655.8,596.6 658.4,596.1 661.0,597.3 663.6,596.9 666.2,597.5 668.8,596.8 671.4,597.5 674.0,596.6 676.6,597.5 679.2,597.4 681.8,596.8 684.4,597.1 687.0,597.3 689.6,596.4 692.2,597.1 694.8,597.5 697.4,596.6 700.0,597.5 702.6,597.3 705.2,597.6 707.8,596.7 710.4,596.3 713.0,597.5 715.6,597.5 718.2,596.9 720.8,596.3 723.4,596.5 726.0,597.2 728.6,596.6 731.2,597.8 733.8,597.2 736.4,596.5 739.0,597.3 741.6,596.7 744.2,597.8 746.8,597.7 749.4,597.0 752.0,597.3 754.6,597.4 757.2,597.5 759.8,597.9 762.4,596.2 765.0,596.8 767.6,597.2 770.2,596.6 772.8,597.2 775.4,596.3 778.0,597.7 780.6,597.0 783.2,596.3 785.8,597.3 788.4,596.7 791.0,596.5 793.6,597.0 796.2,596.3 798.8,596.5 801.4,597.7 804.0,597.4 806.6,596.1 809.2,597.5 811.8,596.1" fill="none" stroke="#0000ff" stroke-width="1.65" stroke-linejoin="round"/>
</g>
<text x="469.17" y="327.47" font-family='"Liberation Serif",serif' font-weight="bold" font-size="29.89" fill="#fff" textLength="35.37" lengthAdjust="spacingAndGlyphs" >(e)</text>
<text transform="translate(481.14,396.65) rotate(90)" font-family='"Liberation Serif",serif' font-weight="normal" font-size="24.84" fill="#fff" textLength="55.81" lengthAdjust="spacingAndGlyphs" >Alloy</text>
<text transform="translate(753.40,308.19) rotate(90)" font-family='"Liberation Serif",serif' font-weight="normal" font-size="24.18" fill="#fff" textLength="135.91" lengthAdjust="spacingAndGlyphs" >Sample Stage</text>
<text x="568.50" y="416.16" font-family='"Liberation Sans",sans-serif' font-weight="bold" font-size="22.56" fill="#ff0000" textLength="33.27" lengthAdjust="spacingAndGlyphs" >Mg</text>
<text x="541.85" y="527.37" font-family='"Liberation Sans",sans-serif' font-weight="bold" font-size="23.24" fill="#000000" textLength="18.47" lengthAdjust="spacingAndGlyphs" >O</text>
<text x="471.08" y="546.90" font-family='"Liberation Sans",sans-serif' font-weight="bold" font-size="22.07" fill="#0000ff" textLength="24.86" lengthAdjust="spacingAndGlyphs" >Ni</text>
<text x="753.64" y="574.18" font-family='"Liberation Sans",sans-serif' font-weight="bold" font-size="22.43" fill="#00ff00" textLength="28.05" lengthAdjust="spacingAndGlyphs" >Fe</text>
<line x1="468.4" y1="334.5" x2="468.4" y2="599.1999999999999" stroke="#000" stroke-width="1.6"/>
<line x1="811.6" y1="334.5" x2="811.6" y2="599.1999999999999" stroke="#000" stroke-width="1.6"/>
<line x1="463.4" y1="598.4" x2="811.6" y2="598.4" stroke="#000" stroke-width="1.6"/>
<line x1="462.9" y1="598.4" x2="468.4" y2="598.4" stroke="#000" stroke-width="1.4"/>
<text x="458.5" y="603.1" text-anchor="end" font-family='"Liberation Sans",sans-serif' font-weight="bold" font-size="15.8" fill="#000">0</text>
<line x1="465.2" y1="579.5" x2="468.4" y2="579.5" stroke="#000" stroke-width="1.4"/>
<line x1="462.9" y1="560.7" x2="468.4" y2="560.7" stroke="#000" stroke-width="1.4"/>
<text x="458.5" y="565.4" text-anchor="end" font-family='"Liberation Sans",sans-serif' font-weight="bold" font-size="15.8" fill="#000">200</text>
<line x1="465.2" y1="541.9" x2="468.4" y2="541.9" stroke="#000" stroke-width="1.4"/>
<line x1="462.9" y1="523.0" x2="468.4" y2="523.0" stroke="#000" stroke-width="1.4"/>
<text x="458.5" y="527.7" text-anchor="end" font-family='"Liberation Sans",sans-serif' font-weight="bold" font-size="15.8" fill="#000">400</text>
<line x1="465.2" y1="504.1" x2="468.4" y2="504.1" stroke="#000" stroke-width="1.4"/>
<line x1="462.9" y1="485.3" x2="468.4" y2="485.3" stroke="#000" stroke-width="1.4"/>
<text x="458.5" y="490.0" text-anchor="end" font-family='"Liberation Sans",sans-serif' font-weight="bold" font-size="15.8" fill="#000">600</text>
<line x1="465.2" y1="466.4" x2="468.4" y2="466.4" stroke="#000" stroke-width="1.4"/>
<line x1="462.9" y1="447.6" x2="468.4" y2="447.6" stroke="#000" stroke-width="1.4"/>
<text x="458.5" y="452.3" text-anchor="end" font-family='"Liberation Sans",sans-serif' font-weight="bold" font-size="15.8" fill="#000">800</text>
<line x1="465.2" y1="428.8" x2="468.4" y2="428.8" stroke="#000" stroke-width="1.4"/>
<line x1="462.9" y1="409.9" x2="468.4" y2="409.9" stroke="#000" stroke-width="1.4"/>
<text x="458.5" y="414.6" text-anchor="end" font-family='"Liberation Sans",sans-serif' font-weight="bold" font-size="15.8" fill="#000">1000</text>
<line x1="465.2" y1="391.1" x2="468.4" y2="391.1" stroke="#000" stroke-width="1.4"/>
<line x1="462.9" y1="372.2" x2="468.4" y2="372.2" stroke="#000" stroke-width="1.4"/>
<text x="458.5" y="376.9" text-anchor="end" font-family='"Liberation Sans",sans-serif' font-weight="bold" font-size="15.8" fill="#000">1200</text>
<line x1="465.2" y1="353.4" x2="468.4" y2="353.4" stroke="#000" stroke-width="1.4"/>
<line x1="462.9" y1="334.5" x2="468.4" y2="334.5" stroke="#000" stroke-width="1.4"/>
<text x="458.5" y="339.2" text-anchor="end" font-family='"Liberation Sans",sans-serif' font-weight="bold" font-size="15.8" fill="#000">1400</text>
<line x1="468.4" y1="598.4" x2="468.4" y2="603.9" stroke="#000" stroke-width="1.4"/>
<text x="468.4" y="618.9" text-anchor="middle" font-family='"Liberation Sans",sans-serif' font-weight="bold" font-size="14.9" fill="#000">0</text>
<line x1="499.5" y1="598.4" x2="499.5" y2="601.6" stroke="#000" stroke-width="1.4"/>
<line x1="530.7" y1="598.4" x2="530.7" y2="603.9" stroke="#000" stroke-width="1.4"/>
<text x="530.7" y="618.9" text-anchor="middle" font-family='"Liberation Sans",sans-serif' font-weight="bold" font-size="14.9" fill="#000">1000</text>
<line x1="561.8" y1="598.4" x2="561.8" y2="601.6" stroke="#000" stroke-width="1.4"/>
<line x1="593.0" y1="598.4" x2="593.0" y2="603.9" stroke="#000" stroke-width="1.4"/>
<text x="593.0" y="618.9" text-anchor="middle" font-family='"Liberation Sans",sans-serif' font-weight="bold" font-size="14.9" fill="#000">2000</text>
<line x1="624.1" y1="598.4" x2="624.1" y2="601.6" stroke="#000" stroke-width="1.4"/>
<line x1="655.3" y1="598.4" x2="655.3" y2="603.9" stroke="#000" stroke-width="1.4"/>
<text x="655.3" y="618.9" text-anchor="middle" font-family='"Liberation Sans",sans-serif' font-weight="bold" font-size="14.9" fill="#000">3000</text>
<line x1="686.4" y1="598.4" x2="686.4" y2="601.6" stroke="#000" stroke-width="1.4"/>
<line x1="717.6" y1="598.4" x2="717.6" y2="603.9" stroke="#000" stroke-width="1.4"/>
<text x="717.6" y="618.9" text-anchor="middle" font-family='"Liberation Sans",sans-serif' font-weight="bold" font-size="14.9" fill="#000">4000</text>
<line x1="748.8" y1="598.4" x2="748.8" y2="601.6" stroke="#000" stroke-width="1.4"/>
<line x1="779.9" y1="598.4" x2="779.9" y2="603.9" stroke="#000" stroke-width="1.4"/>
<text x="779.9" y="618.9" text-anchor="middle" font-family='"Liberation Sans",sans-serif' font-weight="bold" font-size="14.9" fill="#000">5000</text>
<line x1="811.0" y1="598.4" x2="811.0" y2="601.6" stroke="#000" stroke-width="1.4"/>
<text x="580.61" y="638.54" font-family='"Liberation Sans",sans-serif' font-weight="bold" font-size="16.88" fill="#000" textLength="108.74" lengthAdjust="spacingAndGlyphs" >Distance/μm</text>
<g clip-path="url(#cpf)">
<rect x="854" y="293" width="343" height="307" fill="#3b3b3b"/>
<rect x="854" y="293" width="90.5" height="307" fill="#4a4a4a"/>
<rect x="944.5" y="293" width="162" height="307" fill="url(#gFmid)"/>
<rect x="1104" y="293" width="30" height="307" fill="url(#gFedge)"/>
<rect x="944.5" y="293" width="44" height="307" fill="#626262" opacity="0.5" filter="url(#bl4)"/>
<mask id="mFib" maskUnits="userSpaceOnUse" x="930" y="293" width="70" height="307"><rect x="930" y="293" width="70" height="307" fill="url(#gFibMask)"/></mask>
<g mask="url(#mFib)"><rect x="930" y="293" width="70" height="307" fill="#fff" filter="url(#fibF)" opacity="0.72"/><rect x="930" y="293" width="70" height="307" fill="#fff" filter="url(#fibFd)" opacity="0.55"/></g>
<g filter="url(#bl4)" opacity="0.5"><ellipse cx="1005" cy="330" rx="10" ry="14" fill="#6e6e6e"/><ellipse cx="1030" cy="380" rx="12" ry="10" fill="#6a6a6a"/><ellipse cx="1070" cy="330" rx="18" ry="20" fill="#6c6c6c"/><ellipse cx="1010" cy="430" rx="10" ry="12" fill="#666"/></g>
<line x1="854" y1="457.3" x2="1197" y2="457.3" stroke="#1f6f1f" stroke-width="1.2"/>
<line x1="944.4" y1="294" x2="944.4" y2="599" stroke="#000" stroke-width="2.2" stroke-dasharray="7,5.2" stroke-dashoffset="4"/>
<line x1="1115.7" y1="294" x2="1115.7" y2="599" stroke="#000" stroke-width="2.2" stroke-dasharray="7,5.2" stroke-dashoffset="4"/>
<polyline points="854.0,590.8 856.6,591.3 859.2,592.9 861.8,590.8 864.4,591.0 867.0,591.4 869.6,589.6 872.2,591.1 874.8,591.6 877.4,592.3 880.0,589.2 882.6,590.1 885.2,589.2 887.8,592.4 890.4,591.9 893.0,589.0 895.6,593.1 898.2,593.0 900.8,591.7 903.4,591.5 906.0,589.5 908.6,588.9 911.2,591.1 913.8,589.1 916.4,589.6 919.0,589.9 921.6,588.9 924.2,590.8 926.8,590.7 929.4,592.5 932.0,591.1 934.6,591.6 937.2,591.0 939.8,591.7 945.3,552.9 949.1,541.5 955.9,543.4 959.7,564.2 963.5,558.6 967.2,568.0 971.0,566.1 974.8,579.4 980.5,571.8 986.2,569.9 991.8,564.2 997.5,558.6 1001.3,549.1 1004.3,564.2 1007.0,590.7 1012.6,586.9 1020.0,575.6 1025.7,569.9 1031.3,566.1 1037.0,562.3 1042.7,556.7 1048.4,560.4 1054.0,552.9 1057.8,558.6 1061.6,549.1 1067.3,543.4 1071.1,539.7 1073.7,545.3 1076.7,537.8 1080.5,549.1 1084.3,564.2 1088.1,575.6 1091.9,583.1 1095.6,586.9 1101.3,590.7 1110.8,594.5 1118.3,598.3 1121.0,597.8 1123.6,598.1 1126.2,598.1 1128.8,597.2 1131.4,597.0 1134.0,597.6 1136.6,597.4 1139.2,598.3 1141.8,598.1 1144.4,598.0 1147.0,597.9 1149.6,598.1 1152.2,597.2 1154.8,597.7 1157.4,597.3 1160.0,598.4 1162.6,597.1 1165.2,598.3 1167.8,597.1 1170.4,598.1 1173.0,597.5 1175.6,597.6 1178.2,598.3 1180.8,597.0 1183.4,597.1 1186.0,598.5 1188.6,597.8 1191.2,597.1 1193.8,598.6 1196.4,598.5" fill="none" stroke="#000000" stroke-width="1.65" stroke-linejoin="round"/>
<polyline points="853.8,592.0 860.0,590.0 866.0,594.0 872.0,589.0 878.0,593.0 884.0,590.0 890.0,594.0 896.0,591.0 902.0,593.0 908.0,589.0 914.0,592.0 920.0,590.0 926.0,593.0 932.0,591.0 935.0,588.0 937.0,571.8 940.8,586.9 944.0,590.0 946.4,397.8 949.1,392.1 951.4,409.2 953.3,431.9 955.9,390.3 957.8,386.5 959.7,458.3 961.6,586.9 963.5,590.7 965.4,503.7 969.1,447.0 971.8,441.3 974.8,462.1 977.8,537.8 979.3,545.3 982.4,511.3 984.3,469.7 986.9,481.0 989.2,473.5 991.8,477.2 994.5,473.5 997.5,401.6 999.4,375.1 1002.0,380.8 1005.1,511.3 1008.1,586.9 1010.7,588.0 1014.6,561.0 1019.7,543.0 1023.8,533.0 1027.6,525.0 1031.3,507.5 1035.1,484.8 1038.9,465.9 1042.7,447.0 1044.6,450.8 1047.2,454.6 1050.3,458.3 1053.3,465.9 1055.9,450.8 1057.8,445.1 1059.7,450.8 1062.4,435.6 1065.4,409.2 1068.4,395.9 1071.1,393.0 1074.8,394.0 1077.5,405.4 1080.5,428.1 1084.3,465.9 1088.1,503.7 1093.8,534.0 1099.4,545.3 1105.1,552.9 1108.9,564.2 1112.7,579.4 1115.3,590.7 1118.3,596.4 1121.0,597.6 1123.6,597.4 1126.2,597.6 1128.8,597.0 1131.4,598.0 1134.0,598.0 1136.6,597.7 1139.2,597.0 1141.8,597.5 1144.4,597.2 1147.0,597.1 1149.6,598.2 1152.2,598.3 1154.8,596.8 1157.4,598.1 1160.0,597.7 1162.6,597.3 1165.2,597.2 1167.8,597.8 1170.4,597.4 1173.0,597.8 1175.6,597.8 1178.2,596.9 1180.8,597.9 1183.4,598.3 1186.0,598.3 1188.6,597.7 1191.2,596.8 1193.8,596.7 1196.4,596.9" fill="none" stroke="#ff0000" stroke-width="1.65" stroke-linejoin="round"/>
<polyline points="853.8,545.3 856.8,526.4 859.5,539.7 862.1,530.2 865.1,547.2 868.2,534.0 870.8,549.1 873.4,526.4 877.2,520.7 882.1,522.6 885.9,534.0 889.7,524.5 895.4,526.4 901.1,524.5 906.7,532.1 910.5,526.4 916.2,534.0 921.9,524.5 927.5,526.4 931.3,522.6 935.1,530.2 938.9,526.4 942.7,535.9 945.3,586.9 947.6,590.7 952.1,596.4 956.0,595.4 958.6,595.1 961.2,594.4 963.8,596.6 966.4,594.0 969.0,595.5 971.6,596.7 974.2,594.2 976.8,595.7 979.4,595.8 982.0,594.1 984.6,595.1 987.2,596.1 989.8,595.4 992.4,596.2 995.0,594.5 997.6,594.7 1000.2,594.3 1002.8,595.5 1005.4,596.8 1008.0,595.8 1010.6,596.3 1013.2,595.2 1015.8,596.2 1018.4,594.3 1021.0,594.9 1023.6,596.0 1026.2,596.2 1028.8,595.3 1031.4,594.3 1034.0,594.8 1036.6,594.6 1039.2,594.8 1041.8,596.4 1044.4,594.6 1047.0,596.7 1049.6,596.6 1052.2,594.2 1054.8,595.1 1060.0,592.0 1070.0,590.0 1080.0,588.0 1090.0,590.0 1100.0,589.0 1110.8,592.6 1116.4,588.8 1122.1,585.0 1127.8,579.4 1133.5,581.3 1137.2,575.6 1141.0,577.5 1144.8,571.8 1148.6,573.7 1152.4,569.9 1156.2,571.8 1161.8,566.1 1165.6,568.0 1169.4,564.2 1173.2,568.0 1177.0,562.3 1180.7,569.9 1184.5,564.2 1188.3,566.1 1192.1,564.2 1195.9,571.8" fill="none" stroke="#00ff00" stroke-width="1.65" stroke-linejoin="round"/>
<polyline points="853.8,522.6 855.7,503.7 858.3,498.0 861.3,507.5 865.1,492.4 868.2,501.8 870.8,490.5 874.6,488.6 877.2,499.9 880.3,496.2 884.0,505.6 887.8,501.8 891.6,494.3 895.4,490.5 898.4,486.7 901.1,496.2 904.8,501.8 908.6,498.0 912.4,503.7 916.2,496.2 920.0,501.8 925.6,499.9 931.3,501.8 935.1,494.3 938.9,503.7 940.8,509.4 942.7,498.0 944.6,503.7 945.7,568.0 948.3,586.9 952.1,592.6 957.8,598.3 960.0,595.5 962.6,595.0 965.2,596.5 967.8,594.7 970.4,596.1 973.0,595.6 975.6,594.7 978.2,596.0 980.8,594.6 983.4,595.8 986.0,594.7 988.6,594.8 991.2,595.8 993.8,597.0 996.4,594.9 999.0,595.2 1001.6,596.4 1004.2,597.3 1006.8,596.2 1009.4,595.7 1012.0,597.4 1014.6,594.6 1017.2,597.1 1019.8,595.4 1022.4,594.9 1025.0,594.9 1027.6,595.4 1030.2,596.9 1032.8,595.0 1035.4,596.2 1038.0,596.4 1040.6,595.6 1043.2,596.1 1045.8,594.7 1048.4,594.7 1055.0,594.0 1062.0,590.0 1070.0,593.0 1078.0,589.0 1085.0,594.0 1092.0,592.0 1100.0,595.0 1104.0,596.5 1106.6,597.9 1109.2,596.3 1111.8,597.4 1114.4,596.2 1117.0,596.5 1119.6,598.0 1122.2,596.4 1124.8,597.3 1127.4,596.9 1130.0,596.9 1132.6,597.0 1135.2,596.4 1137.8,597.7 1140.4,596.2 1143.0,596.5 1145.6,596.0 1148.2,596.5 1150.8,596.8 1153.4,597.8 1156.0,596.8 1158.6,596.2 1161.2,596.5 1163.8,598.0 1166.4,596.1 1169.0,597.2 1171.6,596.8 1174.2,597.3 1176.8,596.7 1179.4,597.4 1182.0,597.0 1184.6,597.3 1187.2,597.8 1189.8,597.2 1192.4,596.3 1195.0,596.1" fill="none" stroke="#0000ff" stroke-width="1.65" stroke-linejoin="round"/>
<polyline points="854.0,593.0 856.6,594.7 859.2,594.7 861.8,595.4 864.4,592.7 867.0,592.9 869.6,592.6 872.2,592.9 874.8,594.9 877.4,592.5 880.0,594.1 882.6,592.9 885.2,593.2 887.8,593.7 890.4,595.4 893.0,594.4 895.6,592.1 898.2,593.1 900.8,592.6 903.4,595.5 906.0,595.2 908.6,595.2 911.2,595.3 913.8,595.0 916.4,595.8 919.0,595.2 921.6,593.0 924.2,595.4 926.8,593.9 929.4,595.0 932.0,594.3 934.6,593.7 937.2,593.5 939.8,593.7 942.4,593.3 945.3,556.7 949.1,564.2 952.1,569.9 955.9,552.9 959.7,564.2 962.7,586.9 965.4,594.5 968.0,562.3 971.0,566.1 974.8,579.4 980.5,590.7 984.3,579.4 988.0,586.9 993.7,575.6 999.4,571.8 1003.2,586.9 1007.0,594.5 1012.6,590.7 1020.0,586.9 1025.7,583.1 1031.3,579.4 1038.9,577.5 1046.5,579.4 1054.0,577.5 1061.6,575.6 1069.2,573.7 1074.8,577.5 1080.5,577.5 1086.2,583.1 1091.9,585.0 1099.4,585.0 1107.0,588.8 1112.7,594.5 1116.4,598.3 1120.0,597.4 1122.6,598.3 1125.2,598.2 1127.8,598.7 1130.4,597.6 1133.0,597.6 1135.6,598.4 1138.2,598.3 1140.8,597.7 1143.4,598.3 1146.0,597.8 1148.6,598.4 1151.2,597.4 1153.8,597.6 1156.4,598.6 1159.0,597.8 1161.6,597.6 1164.2,598.5 1166.8,598.2 1169.4,597.4 1172.0,598.1 1174.6,598.3 1177.2,597.5 1179.8,598.2 1182.4,597.4 1185.0,597.7 1187.6,597.3 1190.2,597.5 1192.8,598.8 1195.4,597.8" fill="none" stroke="#ffff00" stroke-width="1.65" stroke-linejoin="round"/>
</g>
<text x="864.51" y="327.54" font-family='"Liberation Serif",serif' font-weight="bold" font-size="29.57" fill="#fff" textLength="30.85" lengthAdjust="spacingAndGlyphs" >(f)</text>
<text transform="translate(877.15,378.76) rotate(90)" font-family='"Liberation Serif",serif' font-weight="normal" font-size="24.40" fill="#fff" >Alloy</text>
<text transform="translate(1125.55,421.08) rotate(90)" font-family='"Liberation Serif",serif' font-weight="normal" font-size="23.96" fill="#fff" textLength="136.01" lengthAdjust="spacingAndGlyphs" >Sample Stage</text>
<text x="1060.29" y="392.00" font-family='"Liberation Sans",sans-serif' font-weight="bold" font-size="22.21" fill="#ff0000" textLength="24.53" lengthAdjust="spacingAndGlyphs" >Al</text>
<text x="1063.68" y="535.97" font-family='"Liberation Sans",sans-serif' font-weight="bold" font-size="22.54" fill="#000000" textLength="17.79" lengthAdjust="spacingAndGlyphs" >O</text>
<text x="1060.69" y="571.97" font-family='"Liberation Sans",sans-serif' font-weight="bold" font-size="22.54" fill="#ffff00" textLength="29.16" lengthAdjust="spacingAndGlyphs" >Ca</text>
<text x="886.24" y="484.50" font-family='"Liberation Sans",sans-serif' font-weight="bold" font-size="22.07" fill="#0000ff" textLength="24.05" lengthAdjust="spacingAndGlyphs" >Ni</text>
<text x="1158.39" y="561.38" font-family='"Liberation Sans",sans-serif' font-weight="bold" font-size="22.00" fill="#00ff00" textLength="28.93" lengthAdjust="spacingAndGlyphs" >Fe</text>
<line x1="853.9" y1="339.9" x2="853.9" y2="600.4" stroke="#000" stroke-width="1.6"/>
<line x1="1197" y1="339.9" x2="1197" y2="600.4" stroke="#000" stroke-width="1.6"/>
<line x1="848.9" y1="599.6" x2="1197" y2="599.6" stroke="#000" stroke-width="1.6"/>
<line x1="848.4" y1="599.6" x2="853.9" y2="599.6" stroke="#000" stroke-width="1.4"/>
<text x="844.6" y="604.3" text-anchor="end" font-family='"Liberation Sans",sans-serif' font-weight="bold" font-size="15.8" fill="#000">0</text>
<line x1="850.6999999999999" y1="585.2" x2="853.9" y2="585.2" stroke="#000" stroke-width="1.4"/>
<line x1="848.4" y1="570.7" x2="853.9" y2="570.7" stroke="#000" stroke-width="1.4"/>
<text x="844.6" y="575.4" text-anchor="end" font-family='"Liberation Sans",sans-serif' font-weight="bold" font-size="15.8" fill="#000">50</text>
<line x1="850.6999999999999" y1="556.3" x2="853.9" y2="556.3" stroke="#000" stroke-width="1.4"/>
<line x1="848.4" y1="541.9" x2="853.9" y2="541.9" stroke="#000" stroke-width="1.4"/>
<text x="844.6" y="546.6" text-anchor="end" font-family='"Liberation Sans",sans-serif' font-weight="bold" font-size="15.8" fill="#000">100</text>
<line x1="850.6999999999999" y1="527.5" x2="853.9" y2="527.5" stroke="#000" stroke-width="1.4"/>
<line x1="848.4" y1="513.0" x2="853.9" y2="513.0" stroke="#000" stroke-width="1.4"/>
<text x="844.6" y="517.7" text-anchor="end" font-family='"Liberation Sans",sans-serif' font-weight="bold" font-size="15.8" fill="#000">150</text>
<line x1="850.6999999999999" y1="498.6" x2="853.9" y2="498.6" stroke="#000" stroke-width="1.4"/>
<line x1="848.4" y1="484.2" x2="853.9" y2="484.2" stroke="#000" stroke-width="1.4"/>
<text x="844.6" y="488.9" text-anchor="end" font-family='"Liberation Sans",sans-serif' font-weight="bold" font-size="15.8" fill="#000">200</text>
<line x1="850.6999999999999" y1="469.8" x2="853.9" y2="469.8" stroke="#000" stroke-width="1.4"/>
<line x1="848.4" y1="455.3" x2="853.9" y2="455.3" stroke="#000" stroke-width="1.4"/>
<text x="844.6" y="460.0" text-anchor="end" font-family='"Liberation Sans",sans-serif' font-weight="bold" font-size="15.8" fill="#000">250</text>
<line x1="850.6999999999999" y1="440.9" x2="853.9" y2="440.9" stroke="#000" stroke-width="1.4"/>
<line x1="848.4" y1="426.5" x2="853.9" y2="426.5" stroke="#000" stroke-width="1.4"/>
<text x="844.6" y="431.2" text-anchor="end" font-family='"Liberation Sans",sans-serif' font-weight="bold" font-size="15.8" fill="#000">300</text>
<line x1="850.6999999999999" y1="412.0" x2="853.9" y2="412.0" stroke="#000" stroke-width="1.4"/>
<line x1="848.4" y1="397.6" x2="853.9" y2="397.6" stroke="#000" stroke-width="1.4"/>
<text x="844.6" y="402.3" text-anchor="end" font-family='"Liberation Sans",sans-serif' font-weight="bold" font-size="15.8" fill="#000">350</text>
<line x1="850.6999999999999" y1="383.2" x2="853.9" y2="383.2" stroke="#000" stroke-width="1.4"/>
<line x1="848.4" y1="368.8" x2="853.9" y2="368.8" stroke="#000" stroke-width="1.4"/>
<text x="844.6" y="373.5" text-anchor="end" font-family='"Liberation Sans",sans-serif' font-weight="bold" font-size="15.8" fill="#000">400</text>
<line x1="850.6999999999999" y1="354.3" x2="853.9" y2="354.3" stroke="#000" stroke-width="1.4"/>
<line x1="848.4" y1="339.9" x2="853.9" y2="339.9" stroke="#000" stroke-width="1.4"/>
<text x="844.6" y="344.6" text-anchor="end" font-family='"Liberation Sans",sans-serif' font-weight="bold" font-size="15.8" fill="#000">450</text>
<line x1="853.9" y1="599.6" x2="853.9" y2="605.1" stroke="#000" stroke-width="1.4"/>
<text x="853.9" y="619.7" text-anchor="middle" font-family='"Liberation Sans",sans-serif' font-weight="bold" font-size="14.9" fill="#000">0</text>
<line x1="869.4" y1="599.6" x2="869.4" y2="602.8000000000001" stroke="#000" stroke-width="1.4"/>
<line x1="884.8" y1="599.6" x2="884.8" y2="605.1" stroke="#000" stroke-width="1.4"/>
<text x="884.8" y="619.7" text-anchor="middle" font-family='"Liberation Sans",sans-serif' font-weight="bold" font-size="14.9" fill="#000">50</text>
<line x1="900.2" y1="599.6" x2="900.2" y2="602.8000000000001" stroke="#000" stroke-width="1.4"/>
<line x1="915.7" y1="599.6" x2="915.7" y2="605.1" stroke="#000" stroke-width="1.4"/>
<text x="915.7" y="619.7" text-anchor="middle" font-family='"Liberation Sans",sans-serif' font-weight="bold" font-size="14.9" fill="#000">100</text>
<line x1="931.1" y1="599.6" x2="931.1" y2="602.8000000000001" stroke="#000" stroke-width="1.4"/>
<line x1="946.6" y1="599.6" x2="946.6" y2="605.1" stroke="#000" stroke-width="1.4"/>
<text x="946.6" y="619.7" text-anchor="middle" font-family='"Liberation Sans",sans-serif' font-weight="bold" font-size="14.9" fill="#000">150</text>
<line x1="962.0" y1="599.6" x2="962.0" y2="602.8000000000001" stroke="#000" stroke-width="1.4"/>
<line x1="977.5" y1="599.6" x2="977.5" y2="605.1" stroke="#000" stroke-width="1.4"/>
<text x="977.5" y="619.7" text-anchor="middle" font-family='"Liberation Sans",sans-serif' font-weight="bold" font-size="14.9" fill="#000">200</text>
<line x1="993.0" y1="599.6" x2="993.0" y2="602.8000000000001" stroke="#000" stroke-width="1.4"/>
<line x1="1008.4" y1="599.6" x2="1008.4" y2="605.1" stroke="#000" stroke-width="1.4"/>
<text x="1008.4" y="619.7" text-anchor="middle" font-family='"Liberation Sans",sans-serif' font-weight="bold" font-size="14.9" fill="#000">250</text>
<line x1="1023.8" y1="599.6" x2="1023.8" y2="602.8000000000001" stroke="#000" stroke-width="1.4"/>
<line x1="1039.3" y1="599.6" x2="1039.3" y2="605.1" stroke="#000" stroke-width="1.4"/>
<text x="1039.3" y="619.7" text-anchor="middle" font-family='"Liberation Sans",sans-serif' font-weight="bold" font-size="14.9" fill="#000">300</text>
<line x1="1054.8" y1="599.6" x2="1054.8" y2="602.8000000000001" stroke="#000" stroke-width="1.4"/>
<line x1="1070.2" y1="599.6" x2="1070.2" y2="605.1" stroke="#000" stroke-width="1.4"/>
<text x="1070.2" y="619.7" text-anchor="middle" font-family='"Liberation Sans",sans-serif' font-weight="bold" font-size="14.9" fill="#000">350</text>
<line x1="1085.7" y1="599.6" x2="1085.7" y2="602.8000000000001" stroke="#000" stroke-width="1.4"/>
<line x1="1101.1" y1="599.6" x2="1101.1" y2="605.1" stroke="#000" stroke-width="1.4"/>
<text x="1101.1" y="619.7" text-anchor="middle" font-family='"Liberation Sans",sans-serif' font-weight="bold" font-size="14.9" fill="#000">400</text>
<line x1="1116.5" y1="599.6" x2="1116.5" y2="602.8000000000001" stroke="#000" stroke-width="1.4"/>
<line x1="1132.0" y1="599.6" x2="1132.0" y2="605.1" stroke="#000" stroke-width="1.4"/>
<text x="1132.0" y="619.7" text-anchor="middle" font-family='"Liberation Sans",sans-serif' font-weight="bold" font-size="14.9" fill="#000">450</text>
<line x1="1147.5" y1="599.6" x2="1147.5" y2="602.8000000000001" stroke="#000" stroke-width="1.4"/>
<line x1="1162.9" y1="599.6" x2="1162.9" y2="605.1" stroke="#000" stroke-width="1.4"/>
<text x="1162.9" y="619.7" text-anchor="middle" font-family='"Liberation Sans",sans-serif' font-weight="bold" font-size="14.9" fill="#000">500</text>
<line x1="1178.3" y1="599.6" x2="1178.3" y2="602.8000000000001" stroke="#000" stroke-width="1.4"/>
<line x1="1193.8" y1="599.6" x2="1193.8" y2="605.1" stroke="#000" stroke-width="1.4"/>
<text x="1193.8" y="619.7" text-anchor="middle" font-family='"Liberation Sans",sans-serif' font-weight="bold" font-size="14.9" fill="#000">550</text>
<text x="970.82" y="641.84" font-family='"Liberation Sans",sans-serif' font-weight="bold" font-size="15.91" fill="#000" textLength="108.23" lengthAdjust="spacingAndGlyphs" >Distance/μm</text>
<text transform="translate(29.02,570.98) rotate(-90)" font-family='"Liberation Serif",serif' font-weight="bold" font-size="27.36" fill="#000" textLength="235.38" lengthAdjust="spacingAndGlyphs" >Intensity (Counts/s)</text>
</svg>
</body></html>
